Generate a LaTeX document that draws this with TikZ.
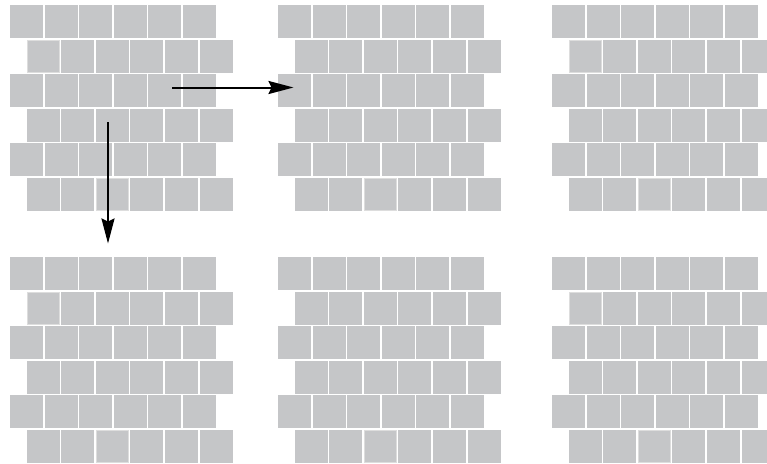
\documentclass[tikz,border=0pt]{standalone}
\usetikzlibrary{arrows.meta}
\definecolor{tilegray}{HTML}{C5C6C8}
\definecolor{tileedge}{HTML}{DDDDDD}
\begin{document}
\begin{tikzpicture}[x=1pt,y=-1pt,
  tile/.style={fill=tilegray,draw=none},
  edgetile/.style={fill=tilegray,draw=tileedge,line width=0.8pt},
  flowarrow/.style={line width=2pt,-{Stealth[length=25pt,width=13pt,inset=3pt]}}]
\useasboundingbox (0,0) rectangle (767,463);
\clip (0,0) rectangle (767,463);
\fill[white] (0,0) rectangle (767,463);
\foreach \ox/\oy/\mark in {0/0/1,268/0/0,542/0/1,0/252/1,268/252/0,542/252/1}{
  \foreach \j in {0,...,5}{
    \pgfmathsetmacro{\sh}{mod(\j,2)*16.5}
    \foreach \i in {0,...,5}{
      \fill[tilegray] ({\ox+10+\sh+34.6*\i},{\oy+5+34.6*\j}) rectangle ++(33,33);
    }
  }
  \ifnum\mark=1
    \draw[edgetile] ({\ox+10+16.5+0.4},{\oy+5+34.6+0.4}) rectangle ++(32.2,32.2);
  \fi
  \draw[edgetile] ({\ox+10+16.5+34.6*2+0.4},{\oy+5+34.6*5+0.4}) rectangle ++(32.2,32.2);
}
\coordinate (hstart) at (172,87.5);
\coordinate (hend) at (293.5,87.5);
\coordinate (vstart) at (108,122);
\coordinate (vend) at (108,243.5);
\draw[flowarrow] (hstart) -- (hend);
\draw[flowarrow] (vstart) -- (vend);
\end{tikzpicture}
\end{document}
